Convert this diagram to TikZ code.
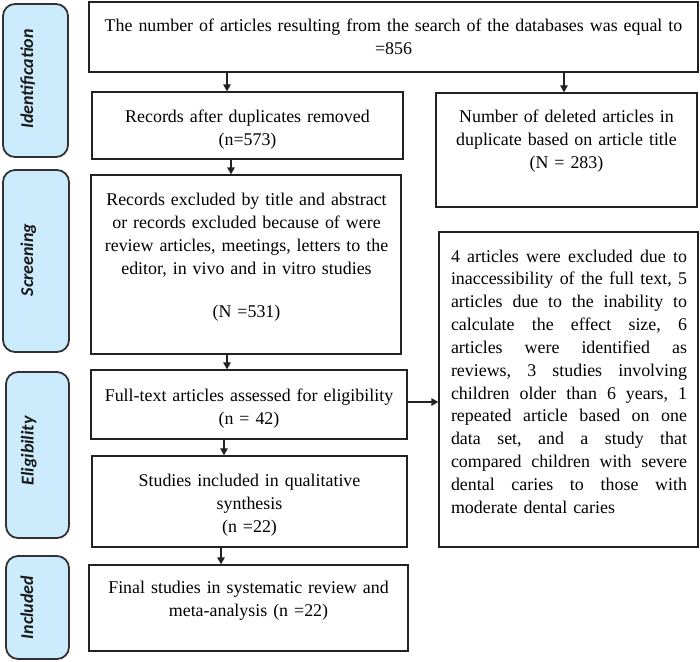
\documentclass[tikz,border=0pt]{standalone}
\usepackage{fontspec}
\setmainfont{Liberation Serif}
\newfontfamily\labelfont{Carlito}
\usetikzlibrary{arrows.meta}
\definecolor{pillfill}{RGB}{204,235,252}
\definecolor{linecol}{RGB}{34,34,34}
\definecolor{pillline}{RGB}{50,50,50}
\newcommand{\jline}[1]{\leavevmode\hbox to 236pt{\frenchspacing\spaceskip=4.4pt plus 1fil\relax #1}}
\begin{document}
\begin{tikzpicture}[x=1pt,y=-1pt,
  box/.style={draw=linecol, line width=1.3pt, rectangle, inner sep=0pt},
  pill/.style={draw=pillline, line width=1.8pt, fill=pillfill, rounded corners=12pt, rectangle, inner sep=0pt},
  txt/.style={anchor=base, inner sep=0pt, align=center, font=\fontsize{17.9}{23}\selectfont, text=black},
  lab/.style={rotate=90, anchor=base, inner sep=0pt, font=\labelfont\bfseries\itshape\fontsize{18}{20}\selectfont, text=black!90},
  arr/.style={draw=linecol, line width=1.3pt, -{Triangle[length=7pt,width=7.5pt]}}
]
\useasboundingbox (0,0) rectangle (700,661);

% phase pills
\node[pill, minimum width=65pt, minimum height=153pt] (pid) at (35.5,80.5) {};
\node[pill, minimum width=66pt, minimum height=182pt] (pscr) at (36,261) {};
\node[pill, minimum width=63pt, minimum height=166pt] (pel) at (37.5,455) {};
\node[pill, minimum width=63pt, minimum height=103pt] (pinc) at (37.5,607.5) {};
\node[lab] (lid) at (33,79) {Identification};
\node[lab] (lscr) at (33,260) {Screening};
\node[lab] (lel) at (33.5,451) {Eligibility};
\node[lab] (linc) at (33,607.5) {Included};

% boxes
\node[box, minimum width=609pt, minimum height=70pt] (tB) at (393.5,37) {};
\node[box, minimum width=311pt, minimum height=67pt] (rec) at (247.5,125.5) {};
\node[box, minimum width=261pt, minimum height=114pt] (del) at (566.5,150) {};
\node[box, minimum width=310pt, minimum height=179pt] (excl) at (246,264.5) {};
\node[box, minimum width=259pt, minimum height=315pt] (rbox) at (568.5,389.5) {};
\node[box, minimum width=316pt, minimum height=69pt] (full) at (249,404.5) {};
\node[box, minimum width=315pt, minimum height=91pt] (stud) at (249.5,501.5) {};
\node[box, minimum width=319pt, minimum height=86pt] (fin) at (248.5,608) {};

% texts
\node[txt, text width=600pt] (tT) at (393.5,31) {The number of articles resulting from the search of the databases was equal to\\=856};
\node[txt, text width=300pt] (recT) at (247.5,122) {Records after duplicates removed\\(n=573)};
\node[txt, text width=255pt] (delT) at (566.5,122) {Number of deleted articles in\\duplicate based on article title\\(N = 283)};
\node[txt, text width=300pt] (exclT) at (246.5,205) {Records excluded by title and abstract\\or records excluded because of were\\review articles, meetings, letters to the\\editor, in vivo and in vitro studies\\[20pt](N =531)};
\node[txt, text width=306pt] (fullT) at (249,401) {Full-text articles assessed for eligibility\\(n = 42)};
\node[txt, text width=306pt] (studT) at (249.5,486) {Studies included in qualitative\\synthesis\\(n =22)};
\node[txt, text width=310pt] (finT) at (248.5,593) {Final studies in systematic review and\\meta-analysis (n =22)};
\node[txt, align=left, text width=236pt, font=\fontsize{17.9}{22.85}\selectfont] (rT) at (569,262) {%
\jline{4 articles were excluded due to}\\
\jline{inaccessibility of the full text, 5}\\
\jline{articles due to the inability to}\\
\jline{calculate the effect size, 6}\\
\jline{articles were identified as}\\
\jline{reviews, 3 studies involving}\\
\jline{children older than 6 years, 1}\\
\jline{repeated article based on one}\\
\jline{data set, and a study that}\\
\jline{compared children with severe}\\
\jline{dental caries to those with}\\
moderate dental caries};

% arrows
\coordinate (c1) at (227,0);
\coordinate (c2) at (564,0);
\coordinate (c3) at (231,0);
\coordinate (c4) at (227,0);
\coordinate (c5) at (0,402);
\coordinate (c6) at (224,0);
\coordinate (c7) at (221,0);
\draw[arr] (tB.south -| c1) -- (rec.north -| c1);
\draw[arr] (tB.south -| c2) -- (del.north -| c2);
\draw[arr] (rec.south -| c3) -- (excl.north -| c3);
\draw[arr] (excl.south -| c4) -- (full.north -| c4);
\draw[arr] (full.east |- c5) -- (rbox.west |- c5);
\draw[arr] (full.south -| c6) -- (stud.north -| c6);
\draw[arr] (stud.south -| c7) -- (fin.north -| c7);
\end{tikzpicture}
\end{document}
